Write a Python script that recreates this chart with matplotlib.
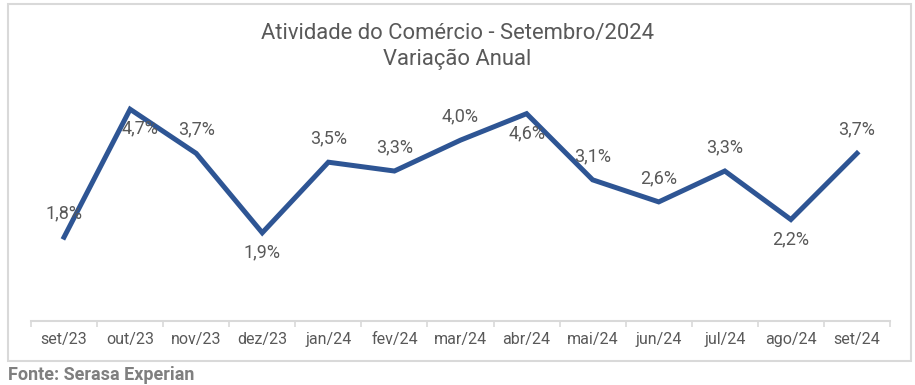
import matplotlib.pyplot as plt
from matplotlib.patches import Rectangle
import numpy as np

plt.rcParams['font.family'] = ['Roboto', 'DejaVu Sans']

meses = ['set/23', 'out/23', 'nov/23', 'dez/23', 'jan/24', 'fev/24', 'mar/24',
         'abr/24', 'mai/24', 'jun/24', 'jul/24', 'ago/24', 'set/24']
variacao = [1.8, 4.7, 3.7, 1.9, 3.5, 3.3, 4.0, 4.6, 3.1, 2.6, 3.3, 2.2, 3.7]
# rotulo acima (1) ou abaixo (-1) do ponto
posicao = [1, -1, 1, -1, 1, 1, 1, -1, 1, 1, 1, -1, 1]

cinza = '#595959'
azul = '#2E5594'

fig = plt.figure(figsize=(9.15, 3.85), dpi=100)
fig.patches.append(Rectangle((8 / 915, 24 / 385), 903 / 915, 357 / 385,
                             transform=fig.transFigure, fill=False,
                             edgecolor='#d9d9d9', linewidth=1.5))

ax = fig.add_axes([31 / 915, 64 / 385, 859 / 915, 221 / 385])
x = np.arange(len(meses))
ax.plot(x, variacao, color=azul, linewidth=3.6, solid_joinstyle='miter')

for xi, v, p in zip(x, variacao, posicao):
    dx = 7 if xi == 1 else 0
    dy = 17 if p > 0 else -14
    ax.annotate(f'{v:.1f}%'.replace('.', ','), (xi, v), xytext=(dx, dy),
                textcoords='offset points', ha='center', va='center',
                fontsize=13, color=cinza)

ax.set_xlim(-0.5, len(meses) - 0.5)
ax.set_ylim(-0.1, 4.91)
ax.set_xticks(x)
ax.set_xticklabels(meses, fontsize=11.5, color=cinza)
ax.set_xticks(np.arange(-0.5, len(meses)), minor=True)
ax.tick_params(axis='x', which='major', length=0, pad=8)
ax.tick_params(axis='x', which='minor', length=4, color='#d9d9d9', width=1.2)
ax.set_yticks([])
for s in ['top', 'right', 'left']:
    ax.spines[s].set_visible(False)
ax.spines['bottom'].set_color('#d9d9d9')
ax.spines['bottom'].set_linewidth(1.5)

fig.text(0.5, 1 - 33 / 385, 'Atividade do Comércio - Setembro/2024', ha='center',
         va='center', fontsize=15.8, color=cinza)
fig.text(0.5, 1 - 59 / 385, 'Variação Anual', ha='center', va='center',
         fontsize=15.8, color=cinza)
fig.text(8 / 915, 1 - 375 / 385, 'Fonte: Serasa Experian', ha='left', va='center',
         fontsize=13, fontweight='bold', color='#7f7f7f')

fig.savefig('out.png', dpi=100)
